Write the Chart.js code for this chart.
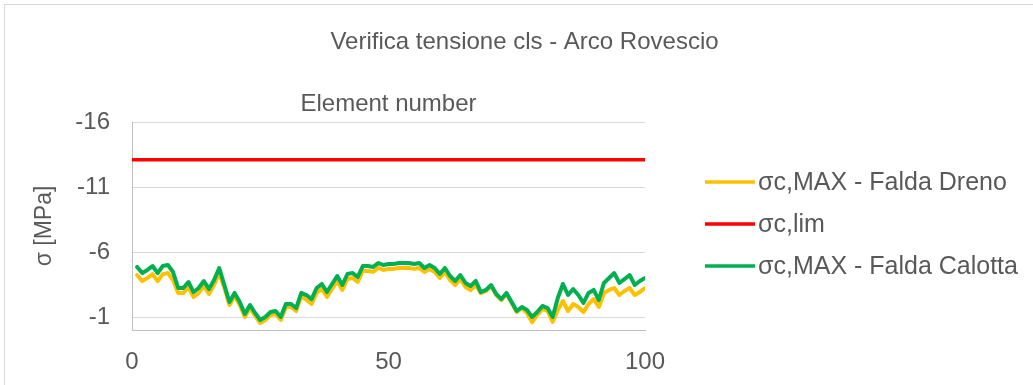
<!DOCTYPE html>
<html>
<head>
<meta charset="utf-8">
<title>Verifica tensione cls - Arco Rovescio</title>
<script src="https://cdn.jsdelivr.net/npm/chart.js@4"></script>
<style>
  html, body { margin: 0; padding: 0; background: #fff; overflow: hidden; }
  #frame { position: absolute; left: 4px; top: 4px; width: 1200px; height: 600px; border: 1px solid #d9d9d9; }
  #wrap { position: absolute; left: 0; top: 0; width: 1033px; height: 385px; }
</style>
</head>
<body>
<div id="frame"></div>
<div id="wrap"><canvas id="stress-chart" width="1033" height="385"></canvas></div>
<script>
// element numbers along the lining
const elements = Array.from({ length: 100 }, (_, i) => i + 1);

// sigma c,MAX with water table at drain level [MPa]
const sigmaDreno = [
  -4.23, -3.76, -4.00, -4.30, -3.76, -4.30, -4.38, -3.84, -2.85, -2.85,
  -3.31, -2.54, -2.85, -3.39, -2.77, -3.47, -4.39, -3.23, -1.92, -2.62,
  -1.92, -1.00, -1.69, -1.08, -0.54, -0.77, -1.15, -1.23, -0.77, -1.77,
  -1.77, -1.46, -2.62, -2.31, -2.00, -2.85, -3.16, -2.54, -3.16, -3.77,
  -3.08, -3.93, -4.00, -3.70, -4.54, -4.54, -4.47, -4.77, -4.62, -4.70,
  -4.70, -4.77, -4.77, -4.77, -4.70, -4.77, -4.46, -4.69, -4.46, -4.00,
  -4.46, -3.84, -3.46, -3.92, -3.31, -3.07, -3.46, -2.84, -3.00, -3.38,
  -2.69, -2.30, -2.77, -2.07, -1.38, -1.69, -1.31, -0.60, -1.15, -1.62,
  -1.46, -0.62, -1.54, -2.23, -1.46, -2.00, -1.77, -1.38, -2.00, -2.38,
  -1.77, -2.85, -3.08, -3.23, -2.69, -3.00, -3.23, -2.69, -2.92, -3.23
];

// sigma c,MAX with water table at crown level [MPa]
const sigmaCalotta = [
  -4.85, -4.38, -4.62, -4.92, -4.38, -4.92, -5.00, -4.46, -3.23, -3.23,
  -3.69, -2.92, -3.23, -3.77, -3.15, -3.85, -4.77, -3.46, -2.15, -2.85,
  -2.15, -1.23, -1.92, -1.31, -0.77, -1.00, -1.38, -1.46, -1.00, -2.00,
  -2.00, -1.69, -2.85, -2.69, -2.38, -3.23, -3.54, -2.92, -3.54, -4.15,
  -3.46, -4.31, -4.38, -4.08, -4.92, -4.92, -4.85, -5.15, -5.00, -5.08,
  -5.08, -5.15, -5.15, -5.15, -5.08, -5.15, -4.77, -5.00, -4.77, -4.31,
  -4.77, -4.15, -3.77, -4.23, -3.62, -3.38, -3.77, -2.92, -3.08, -3.46,
  -2.77, -2.38, -2.85, -2.15, -1.46, -1.77, -1.54, -1.00, -1.38, -1.85,
  -1.69, -1.00, -2.46, -3.54, -2.69, -3.15, -2.69, -2.08, -2.85, -3.08,
  -2.31, -3.62, -4.00, -4.38, -3.62, -3.92, -4.23, -3.46, -3.77, -4.00
];

// allowable concrete stress
const limitX = [0, 100];
const limitY = [-13.1, -13.1];

const yTicks = [-16, -11, -6, -1];
const xTicks = [0, 50, 100];

const toPoints = (xs, ys) => xs.map((x, i) => ({ x: x, y: ys[i] }));

Chart.defaults.font.family = "'Liberation Sans', Arial, sans-serif";
Chart.defaults.color = '#595959';

const ctx = document.getElementById('stress-chart').getContext('2d');

function lineSet(label, color, points, order, width) {
  return {
    label: label,
    data: points,
    borderColor: color,
    backgroundColor: color,
    borderWidth: width,
    borderJoinStyle: 'round',
    borderCapStyle: 'round',
    pointRadius: 0,
    pointHoverRadius: 0,
    tension: 0,
    order: order
  };
}

// legend on the right: a short line sample followed by the series name
const sideLegend = {
  id: 'sideLegend',
  afterDraw(chart) {
    const c = chart.ctx;
    const rowY = [182, 224, 266];
    c.save();
    c.font = "25px 'Liberation Sans', Arial, sans-serif";
    c.textBaseline = 'middle';
    c.textAlign = 'left';
    chart.data.datasets.forEach((ds, i) => {
      const y = rowY[i];
      c.strokeStyle = ds.borderColor;
      c.lineWidth = 3.5;
      c.beginPath();
      c.moveTo(705, y);
      c.lineTo(755, y);
      c.stroke();
      c.fillStyle = '#595959';
      c.fillText(ds.label, 758, y + 1);
    });
    c.restore();
  }
};

const stressChart = new Chart(ctx, {
  type: 'line',
  data: {
    datasets: [
      lineSet('σc,MAX - Falda Dreno', '#ffc000', toPoints(elements, sigmaDreno), 1, 4),
      lineSet('σc,lim', '#ff0000', toPoints(limitX, limitY), 2, 3.5),
      lineSet('σc,MAX - Falda Calotta', '#00b050', toPoints(elements, sigmaCalotta), 0, 4)
    ]
  },
  options: {
    responsive: false,
    animation: false,
    events: [],
    layout: { padding: { left: 23, right: 7, top: 0, bottom: 0 } },
    plugins: {
      title: {
        display: true,
        text: 'Verifica tensione cls - Arco Rovescio',
        font: { size: 24, weight: 'normal' },
        color: '#595959',
        padding: { top: 28, bottom: 0 }
      },
      legend: { display: false },
      tooltip: { enabled: false }
    },
    scales: {
      x: {
        type: 'linear',
        position: 'bottom',
        min: 0,
        max: 100,
        afterBuildTicks: s => { s.ticks = xTicks.map(v => ({ value: v })); },
        ticks: { font: { size: 24 }, padding: 10, maxRotation: 0 },
        grid: { display: false },
        border: { display: true, color: '#bfbfbf', width: 1 },
        afterFit: s => { s.height = 55; }
      },
      // axis title sits above the plot
      xTop: {
        type: 'linear',
        position: 'top',
        min: 0,
        max: 100,
        ticks: { display: false },
        grid: { display: false },
        border: { display: false },
        title: {
          display: true,
          text: 'Element number',
          font: { size: 24 },
          color: '#595959',
          padding: { top: 33, bottom: 0 }
        },
        afterFit: s => { s.height = 65.2; }
      },
      y: {
        type: 'linear',
        reverse: true,
        min: -16,
        max: 0,
        afterBuildTicks: s => { s.ticks = yTicks.map(v => ({ value: v })); },
        ticks: { font: { size: 24 }, padding: 22 },
        grid: { color: '#d9d9d9', lineWidth: 1, drawTicks: false },
        border: { display: true, color: '#bfbfbf', width: 1 },
        title: {
          display: true,
          text: 'σ [MPa]',
          font: { size: 23 },
          color: '#595959',
          padding: { top: 8, bottom: 0 }
        },
        afterFit: s => { s.width = 109; }
      },
      // room on the right for the legend
      yGap: {
        type: 'linear',
        position: 'right',
        ticks: { display: false },
        grid: { display: false },
        border: { display: false },
        afterFit: s => { s.width = 381; }
      }
    }
  },
  plugins: [sideLegend]
});
</script>
</body>
</html>
